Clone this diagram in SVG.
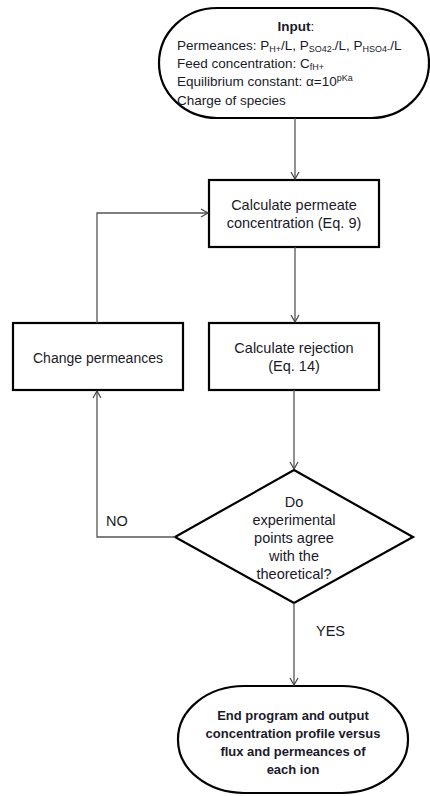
<svg xmlns="http://www.w3.org/2000/svg" width="430" height="796" viewBox="0 0 430 796">
<defs>
<marker id="arr" markerWidth="10" markerHeight="10" refX="8" refY="5" orient="auto" markerUnits="userSpaceOnUse">
<path d="M1,1 L8,5 L1,9" fill="none" stroke="#444" stroke-width="1.2"/>
</marker>
<style>
.box{fill:#fff;stroke:#000;stroke-width:2.2}
.conn{fill:none;stroke:#555;stroke-width:1.3}
text{font-family:"Liberation Sans",Arial,sans-serif;font-size:14.5px;fill:#1a1a2a}
.in{font-size:13.5px}
.c{text-anchor:middle}
.b{font-weight:bold}
.eb{font-weight:bold;font-size:13px}
.s{font-size:9px}
</style>
</defs>
<rect width="430" height="796" fill="#fff"/>
<g id="input">
<rect class="box" x="159" y="8" width="270" height="110" rx="58" ry="55"/>
<text class="c in" x="296" y="31"><tspan class="b">Input</tspan>:</text>
<text class="in" x="177" y="50">Permeances: P<tspan class="s" dy="2">H+</tspan><tspan dy="-2">/L, P</tspan><tspan class="s" dy="2">SO42-</tspan><tspan dy="-2">/L, P</tspan><tspan class="s" dy="2">HSO4-</tspan><tspan dy="-2">/L</tspan></text>
<text class="in" x="177" y="68">Feed concentration: C<tspan class="s" dy="2">fH+</tspan></text>
<text class="in" x="177" y="86">Equilibrium constant: α=10<tspan class="s" dy="-5">pKa</tspan></text>
<text class="in" x="177" y="105">Charge of species</text>
</g>
<g id="calc-permeate">
<rect class="box" x="209" y="180" width="170" height="67"/>
<text class="c" x="294" y="210">Calculate permeate</text>
<text class="c" x="294" y="228">concentration (Eq. 9)</text>
</g>
<g id="calc-rejection">
<rect class="box" x="209" y="323" width="170" height="67"/>
<text class="c" x="294" y="353">Calculate rejection</text>
<text class="c" x="294" y="371">(Eq. 14)</text>
</g>
<g id="change-perm">
<rect class="box" x="13" y="323" width="170" height="67"/>
<text class="c" x="98" y="363" style="font-size:14px">Change permeances</text>
</g>
<g id="decision">
<polygon class="box" points="294,470 413,537 294,603 175,537"/>
<text class="c" x="294" y="507">Do</text>
<text class="c" x="294" y="525">experimental</text>
<text class="c" x="294" y="543">points agree</text>
<text class="c" x="294" y="561">with the</text>
<text class="c" x="294" y="579">theoretical?</text>
</g>
<g id="end">
<rect class="box" x="178" y="686" width="230" height="107" rx="66" ry="53"/>
<text class="c eb" x="293" y="720">End program and output</text>
<text class="c eb" x="293" y="738">concentration profile versus</text>
<text class="c eb" x="293" y="756">flux and permeances of</text>
<text class="c eb" x="293" y="774">each ion</text>
</g>
<g id="connectors">
<path class="conn" d="M295,118 L295,179" marker-end="url(#arr)"/>
<path class="conn" d="M295,247 L295,322" marker-end="url(#arr)"/>
<path class="conn" d="M294,390 L294,469" marker-end="url(#arr)"/>
<path class="conn" d="M97,323 L97,213 L208,213" marker-end="url(#arr)"/>
<path class="conn" d="M175,537 L97,537 L97,391" marker-end="url(#arr)"/>
<path class="conn" d="M294,603 L294,685" marker-end="url(#arr)"/>
<text x="106" y="526">NO</text>
<text x="316" y="636">YES</text>
</g>
</svg>
